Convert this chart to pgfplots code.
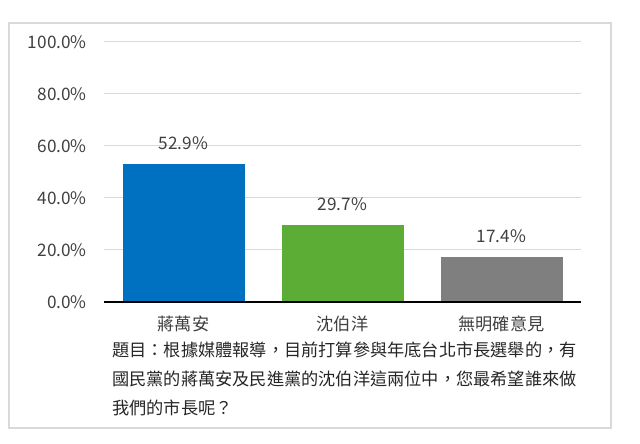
\documentclass[border=0pt]{standalone}
\usepackage{fontspec}
\setmainfont{Noto Sans CJK TC}
\usepackage{pgfplots}
\pgfplotsset{compat=1.18}

\definecolor{barblue}{HTML}{0070C0}
\definecolor{bargreen}{HTML}{5BAD35}
\definecolor{bargray}{HTML}{7F7F7F}
\definecolor{gridgray}{HTML}{D9D9D9}
\definecolor{labelgray}{HTML}{404040}
\newcommand\f{\fontsize{17.2bp}{20bp}\selectfont}

\begin{document}
\begin{tikzpicture}
\useasboundingbox (0,0) rectangle (640bp,444bp);
% outer frame
\draw[gridgray, line width=1.2bp] (9bp,16bp) rectangle (611bp,421bp);

\begin{axis}[
  at={(104bp,142bp)}, anchor=south west,
  scale only axis,
  width=477bp, height=260bp,
  ybar, bar width=122bp,
  xmin=-0.5, xmax=2.5,
  ymin=0, ymax=100,
  xtick={0,1,2},
  xticklabels={蔣萬安,沈伯洋,無明確意見},
  ytick={0,20,40,60,80,100},
  /pgf/number format/assume math mode=true,
  yticklabel={\pgfmathprintnumber[fixed,fixed zerofill,precision=1]{\tick}\%},
  ymajorgrids,
  grid style={gridgray, line width=1bp},
  axis line style={draw=none},
  tick style={draw=none},
  major tick length=0pt,
  xticklabel style={anchor=base, inner sep=0pt, yshift=-29bp, font=\f, text=labelgray},
  yticklabel style={anchor=east, inner sep=0pt, xshift=-17bp, font=\f, text=labelgray},
  nodes near coords={\pgfmathprintnumber[fixed,fixed zerofill,precision=1]{\pgfplotspointmeta}\%},
  nodes near coords style={anchor=base, inner sep=0pt, yshift=14.5bp, font=\f, text=labelgray},
  clip=false,
]
\addplot[draw=none, fill=barblue, bar shift=0pt] coordinates {(0,52.9)};
\addplot[draw=none, fill=bargreen, bar shift=0pt] coordinates {(1,29.7)};
\addplot[draw=none, fill=bargray, bar shift=0pt] coordinates {(2,17.4)};
\draw[black, line width=1.5bp] (rel axis cs:0,0) -- (rel axis cs:1,0);
\end{axis}

% question text
\begin{scope}[every node/.style={anchor=base west, inner sep=0pt, font=\f, text=black!85}]
\node at (112bp,87bp) {題目：根據媒體報導，目前打算參與年底台北市長選舉的，有};
\node at (112bp,58bp) {國民黨的蔣萬安及民進黨的沈伯洋這兩位中，您最希望誰來做};
\node at (112bp,30bp) {我們的市長呢？};
\end{scope}
\end{tikzpicture}
\end{document}
